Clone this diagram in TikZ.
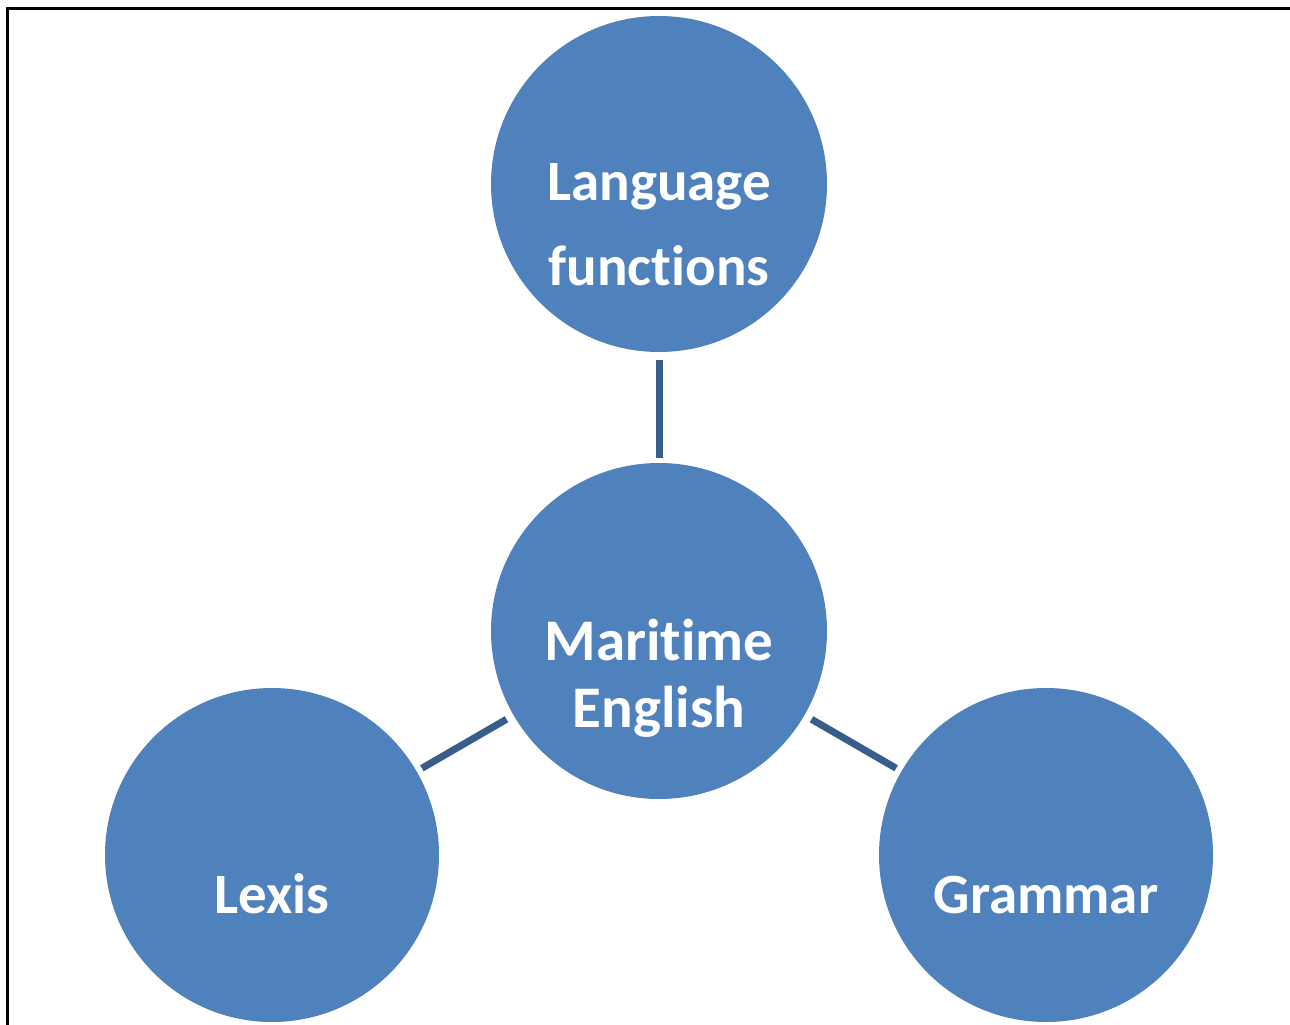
\documentclass[tikz,border=0pt]{standalone}
\usepackage{fontspec}
\setmainfont{Carlito}[Ligatures=NoCommon]
\definecolor{circfill}{HTML}{4F81BD}
\definecolor{linkcol}{HTML}{385D8A}
\begin{document}
\begin{tikzpicture}[x=1pt,y=-1pt,
  bubble/.style={circle,fill=circfill,draw=none,minimum size=336pt,inner sep=0pt},
  lbl/.style={text=white,font=\fontsize{57}{60}\selectfont\bfseries,anchor=base,inner sep=0pt},
  link/.style={draw=linkcol,line width=7pt}]
\useasboundingbox (0,0) rectangle (1290,1025);
\fill[white] (0,0) rectangle (1290,1025);
\draw[line width=3pt,black] (7,1025) -- (7,9) -- (1290,9);
\node[bubble] (top) at (659,184) {};
\node[bubble] (mid) at (659,631) {};
\node[bubble,minimum size=334pt] (left) at (272,855) {};
\node[bubble,minimum size=334pt] (right) at (1046,855) {};
\node[lbl] (t1) at (659,200) {Language};
\node[lbl] (t2) at (659,285) {functions};
\node[lbl,font=\fontsize{59}{60}\selectfont\bfseries] (m1) at (659,660) {Maritime};
\node[lbl,font=\fontsize{59}{60}\selectfont\bfseries] (m2) at (659,727) {English};
\node[lbl] (l1) at (272,913) {Lexis};
\node[lbl] (r1) at (1046,913) {Grammar};
\draw[link,shorten >=5pt,shorten <=8pt] (top) -- (mid);
\draw[link,shorten >=6pt,shorten <=8pt] (mid) -- (left);
\draw[link,shorten >=6pt,shorten <=8pt] (mid) -- (right);
\end{tikzpicture}
\end{document}
